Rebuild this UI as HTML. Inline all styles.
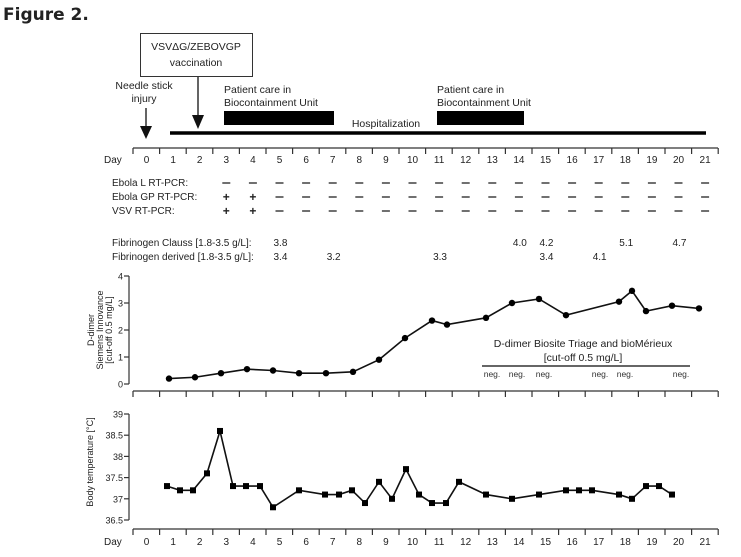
<!DOCTYPE html>
<html><head><meta charset="utf-8">
<style>
html,body{margin:0;padding:0;background:#fff;}
svg{display:block;font-family:"Liberation Sans",sans-serif;}
</style></head>
<body>
<svg id="s" width="741" height="557" viewBox="0 0 741 557" xmlns="http://www.w3.org/2000/svg">
<text x="3" y="20" font-size="17" font-weight="bold" fill="#222" font-family="DejaVu Sans, sans-serif">Figure 2.</text>
<rect x="140.5" y="33.5" width="112" height="43" fill="#fff" stroke="#333" stroke-width="1"/>
<text x="196" y="50" font-size="10.5" text-anchor="middle" fill="#222">VSVΔG/ZEBOVGP</text>
<text x="196" y="66" font-size="10.5" text-anchor="middle" fill="#222">vaccination</text>
<line x1="198" y1="77" x2="198" y2="118" stroke="#111" stroke-width="1.3"/>
<polygon points="192,115 204,115 198,129" fill="#111"/>
<text x="144" y="89" font-size="10.5" text-anchor="middle" fill="#222">Needle stick</text>
<text x="144" y="102" font-size="10.5" text-anchor="middle" fill="#222">injury</text>
<line x1="146" y1="108" x2="146" y2="128" stroke="#111" stroke-width="1.3"/>
<polygon points="140,126 152,126 146,139" fill="#111"/>
<text x="224" y="93" font-size="10.5" fill="#222">Patient care in</text>
<text x="224" y="106" font-size="10.5" fill="#222">Biocontainment Unit</text>
<rect x="224" y="111" width="110" height="14" fill="#000"/>
<text x="437" y="93" font-size="10.5" fill="#222">Patient care in</text>
<text x="437" y="106" font-size="10.5" fill="#222">Biocontainment Unit</text>
<rect x="437" y="111" width="87" height="14" fill="#000"/>
<text x="386" y="127" font-size="10.5" text-anchor="middle" fill="#222">Hospitalization</text>
<line x1="170" y1="133" x2="706" y2="133" stroke="#000" stroke-width="3.5"/>
<g id="g"></g>
</svg>
<script>
var g=document.getElementById('g'),h='';
function X(d){return 146.5+26.6*d;}
function axis(y,ly){
 h+='<line x1="133" y1="'+y+'" x2="718" y2="'+y+'" stroke="#333" stroke-width="1.2"/>';
 for(var k=0;k<=22;k++){var x=133+26.6*k;h+='<line x1="'+x+'" y1="'+y+'" x2="'+x+'" y2="'+(y+6)+'" stroke="#333" stroke-width="1.2"/>';}
 if(ly){h+='<text x="104" y="'+ly+'" font-size="10" fill="#222">Day</text>';
 for(var d=0;d<=21;d++)h+='<text x="'+X(d)+'" y="'+ly+'" font-size="10" text-anchor="middle" fill="#222">'+d+'</text>';}
}
axis(148,163);
var rows=[["Ebola L RT-PCR:",186,[]],["Ebola GP RT-PCR:",200,[3,4]],["VSV RT-PCR:",214,[3,4]]];
rows.forEach(function(r){h+='<text x="112" y="'+r[1]+'" font-size="10" fill="#222">'+r[0]+'</text>';
 for(var d=3;d<=21;d++){var x=X(d);if(r[2].indexOf(d)>=0)h+='<text x="'+x+'" y="'+(r[1]+1)+'" font-size="12" font-weight="bold" text-anchor="middle" fill="#222">+</text>';else h+='<line x1="'+(x-4)+'" y1="'+(r[1]-3)+'" x2="'+(x+4)+'" y2="'+(r[1]-3)+'" stroke="#222" stroke-width="1.3"/>';}});
h+='<text x="112" y="246" font-size="10" fill="#222">Fibrinogen Clauss [1.8-3.5 g/L]:</text>';
h+='<text x="112" y="260" font-size="10" fill="#222">Fibrinogen derived [1.8-3.5 g/L]:</text>';
[[5,"3.8"],[14,"4.0"],[15,"4.2"],[18,"5.1"],[20,"4.7"]].forEach(function(v){h+='<text x="'+(X(v[0])-6)+'" y="246" font-size="10" fill="#222">'+v[1]+'</text>';});
[[5,"3.4"],[7,"3.2"],[11,"3.3"],[15,"3.4"],[17,"4.1"]].forEach(function(v){h+='<text x="'+(X(v[0])-6)+'" y="260" font-size="10" fill="#222">'+v[1]+'</text>';});
function YD(v){return 384-27*v;}
h+='<line x1="129" y1="276" x2="129" y2="384" stroke="#333" stroke-width="1.2"/>';
for(var i=0;i<=4;i++){h+='<line x1="124" y1="'+YD(i)+'" x2="129" y2="'+YD(i)+'" stroke="#333" stroke-width="1.2"/><text x="123" y="'+(YD(i)+3.5)+'" font-size="9" text-anchor="end" fill="#222">'+i+'</text>';}
h+='<text transform="translate(94,330) rotate(-90)" font-size="9" text-anchor="middle" fill="#222">D-dimer</text>';
h+='<text transform="translate(103,330) rotate(-90)" font-size="9" text-anchor="middle" fill="#222">Siemens Innovance</text>';
h+='<text transform="translate(112,330) rotate(-90)" font-size="9" text-anchor="middle" fill="#222">[cut-off 0.5 mg/L]</text>';
var dd=[[169,0.2],[195,0.25],[221,0.4],[247,0.55],[273,0.5],[299,0.4],[326,0.4],[353,0.45],[379,0.9],[405,1.7],[432,2.35],[447,2.2],[486,2.45],[512,3.0],[539,3.15],[566,2.55],[619,3.05],[632,3.45],[646,2.7],[672,2.9],[699,2.8]];
h+='<polyline fill="none" stroke="#111" stroke-width="1.6" points="'+dd.map(function(p){return p[0]+','+YD(p[1]);}).join(' ')+'"/>';
dd.forEach(function(p){h+='<circle cx="'+p[0]+'" cy="'+YD(p[1])+'" r="3.2" fill="#000"/>';});
h+='<text x="583" y="347" font-size="10.5" text-anchor="middle" fill="#222">D-dimer Biosite Triage and bioMérieux</text>';
h+='<text x="583" y="361" font-size="10.5" text-anchor="middle" fill="#222">[cut-off 0.5 mg/L]</text>';
h+='<line x1="482" y1="366" x2="690" y2="366" stroke="#333" stroke-width="1.5"/>';
[492,517,544,600,625,681].forEach(function(x){h+='<text x="'+x+'" y="377" font-size="8.5" text-anchor="middle" fill="#333">neg.</text>';});
axis(391,0);
function YT(v){return 414+(39-v)*42.4;}
h+='<line x1="129" y1="414" x2="129" y2="520" stroke="#333" stroke-width="1.2"/>';
["39","38.5","38","37.5","37","36.5"].forEach(function(t){var y=YT(+t);h+='<line x1="124" y1="'+y+'" x2="129" y2="'+y+'" stroke="#333" stroke-width="1.2"/><text x="123" y="'+(y+3.5)+'" font-size="9" text-anchor="end" fill="#222">'+t+'</text>';});
h+='<text transform="translate(93,462) rotate(-90)" font-size="9" text-anchor="middle" fill="#222">Body temperature [°C]</text>';
var tt=[[167,37.3],[180,37.2],[193,37.2],[207,37.6],[220,38.6],[233,37.3],[246,37.3],[260,37.3],[273,36.8],[299,37.2],[325,37.1],[339,37.1],[352,37.2],[365,36.9],[379,37.4],[392,37.0],[406,37.7],[419,37.1],[432,36.9],[446,36.9],[459,37.4],[486,37.1],[512,37.0],[539,37.1],[566,37.2],[579,37.2],[592,37.2],[619,37.1],[632,37.0],[646,37.3],[659,37.3],[672,37.1]];
h+='<polyline fill="none" stroke="#111" stroke-width="1.6" points="'+tt.map(function(p){return p[0]+','+YT(p[1]);}).join(' ')+'"/>';
tt.forEach(function(p){h+='<rect x="'+(p[0]-3)+'" y="'+(YT(p[1])-3)+'" width="6" height="6" fill="#000"/>';});
axis(529,545);
g.innerHTML=h;
</script>
</body></html>
